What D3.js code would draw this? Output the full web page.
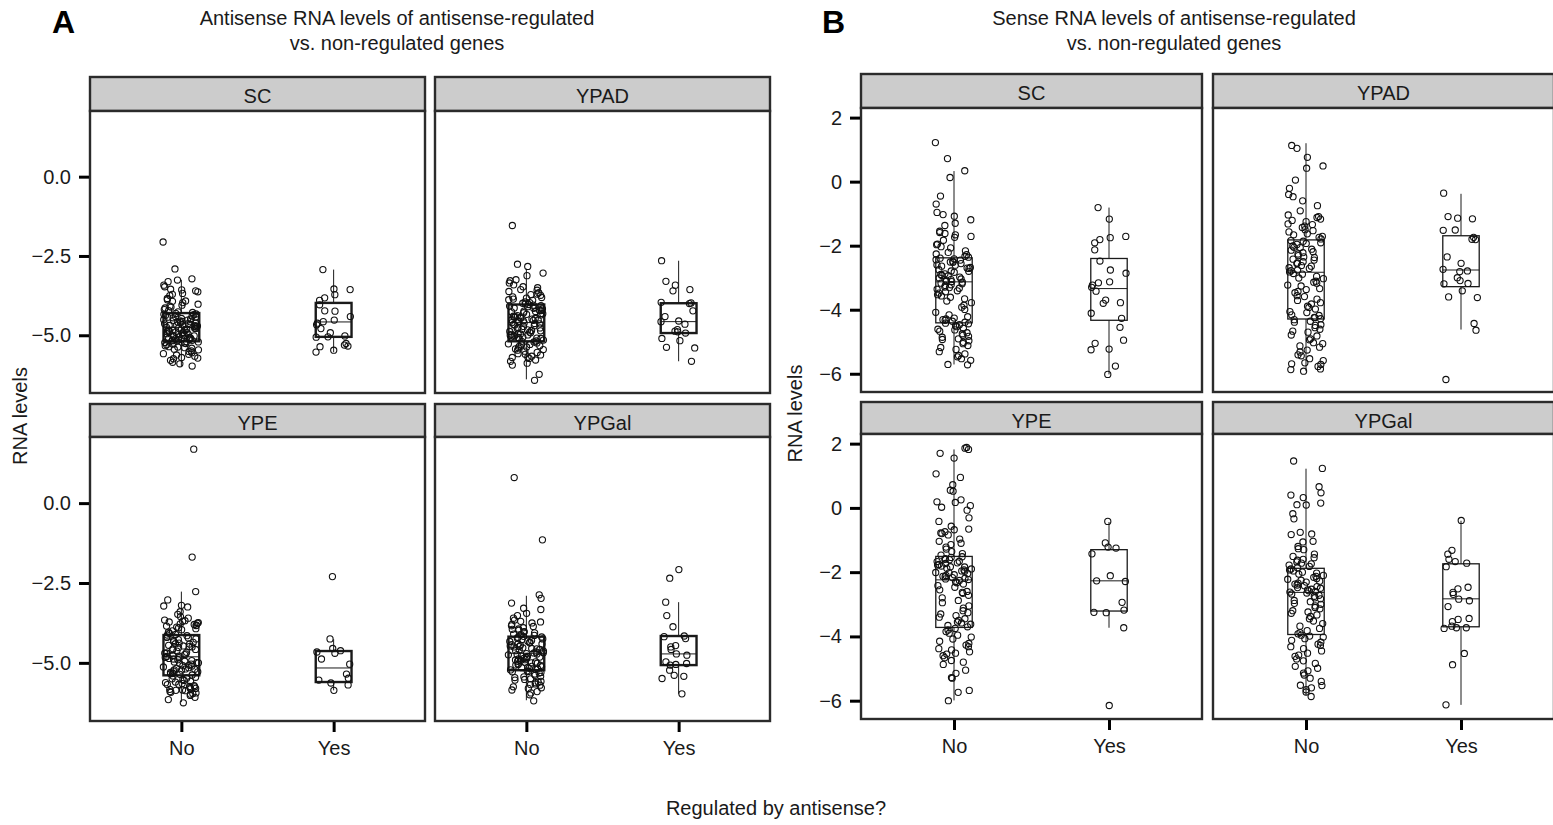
<!DOCTYPE html>
<html>
<head>
<meta charset="utf-8">
<script src="https://d3js.org/d3.v7.min.js"></script>
<style>
  html, body { margin: 0; padding: 0; background: #fff; overflow: hidden; }
  svg { display: block; font-family: "Liberation Sans", Arial, sans-serif; }
</style>
</head>
<body>
<svg id="chart" width="1553" height="825"></svg>
<script>

const facets = [ "SC", "YPAD", "YPE", "YPGal" ];
const groups = [ "No", "Yes" ];
const ticksAntisense = [ 0, -2.5, -5 ];
const ticksSense = [ 2, 0, -2, -4, -6 ];

// ---- Panel A : antisense RNA levels ----
const antisenseSC_No = [ -2.06, -2.91, -3.22, -3.26, -3.31, -3.42, -3.47, -3.55, -3.57, -3.63, -3.68, -3.71, -3.84, -3.88, -3.93, -3.97,
  -4.02, -4.05, -4.11, -4.14, -4.19, -4.22, -4.26, -4.28, -4.31, -4.34, -4.35, -4.39, -4.42, -4.43, -4.47, -4.51, -4.52, -4.55,
  -4.58, -4.6, -4.63, -4.64, -4.67, -4.69, -4.71, -4.72, -4.74, -4.75, -4.77, -4.79, -4.8, -4.84, -4.86, -4.87, -4.9, -4.92,
  -4.95, -4.97, -4.98, -5.01, -5.04, -5.05, -5.07, -5.1, -5.12, -5.14, -5.15, -5.17, -5.18, -5.2, -5.23, -5.24, -5.28, -5.3,
  -5.33, -5.36, -5.37, -5.41, -5.44, -5.46, -5.49, -5.51, -5.55, -5.58, -5.62, -5.66, -5.7, -5.74, -5.79, -5.85, -5.9, -5.97,
  -4.45, -4.62, -4.81, -4.94, -5.0, -5.09, -4.37, -4.56, -4.89, -5.02, -5.13, -4.66,
  -3.6, -3.75, -3.92, -4.08, -4.33, -4.49, -4.57, -4.7, -4.83, -4.91, -5.06, -5.16, -5.26, -5.39, -5.6, -5.72, -4.41, -4.78,
  -4.99, -5.11, -4.53, -4.68, -4.85, -5.21 ];
const antisenseSC_Yes = [ -2.93, -3.54, -3.56, -3.72, -3.82, -3.9, -4.04, -4.23, -4.24, -4.41, -4.52, -4.57, -4.62, -4.67,
  -4.79, -4.92, -5.02, -5.05, -5.06, -5.26, -5.31, -5.34, -5.36, -5.47, -5.53 ];

const antisenseYPAD_No = [ -1.54, -2.76, -2.83, -3.04, -3.12, -3.25, -3.28, -3.35, -3.41, -3.47, -3.5, -3.56, -3.62, -3.66, -3.7,
  -3.74, -3.79, -3.83, -3.88, -3.9, -3.95, -3.99, -4.01, -4.05, -4.08, -4.1, -4.14, -4.17, -4.2, -4.22, -4.26, -4.29, -4.31,
  -4.34, -4.38, -4.4, -4.43, -4.46, -4.49, -4.51, -4.53, -4.55, -4.56, -4.58, -4.61, -4.63, -4.66, -4.7, -4.72, -4.75, -4.79,
  -4.81, -4.85, -4.88, -4.9, -4.94, -4.97, -5.0, -5.03, -5.06, -5.09, -5.12, -5.15, -5.18, -5.21, -5.24, -5.27, -5.3, -5.33,
  -5.37, -5.4, -5.43, -5.47, -5.5, -5.54, -5.58, -5.62, -5.66, -5.69, -5.73, -5.78, -5.82, -5.88, -5.94, -6.23, -6.42,
  -4.12, -4.36, -4.68, -4.92, -5.01, -5.1, -4.25, -4.47, -4.77, -3.86, -4.03, -4.6,
  -3.58, -3.72, -3.97, -4.15, -4.32, -4.44, -4.64, -4.83, -4.96, -5.07, -5.19, -5.29, -5.45, -5.6, -5.7, -4.07, -4.52, -4.86,
  -5.05, -4.24, -3.81, -4.99, -5.35, -4.41 ];
const antisenseYPAD_Yes = [ -2.65, -3.3, -3.42, -3.56, -3.6, -3.96, -3.98, -4.0, -4.23, -4.41, -4.55, -4.57, -4.65, -4.82,
  -4.87, -4.89, -4.93, -5.1, -5.17, -5.38, -5.4, -5.82 ];

const antisenseYPE_No = [ 1.69, -1.69, -2.77, -3.03, -3.2, -3.22, -3.25, -3.4, -3.48, -3.55, -3.6, -3.66, -3.7, -3.72, -3.76,
  -3.8, -3.83, -3.85, -3.9, -3.93, -3.96, -4.0, -4.04, -4.08, -4.11, -4.15, -4.19, -4.22, -4.27, -4.3, -4.34, -4.38, -4.41,
  -4.45, -4.49, -4.52, -4.56, -4.6, -4.63, -4.67, -4.7, -4.74, -4.77, -4.8, -4.83, -4.86, -4.9, -4.93, -4.97, -5.0, -5.04,
  -5.07, -5.1, -5.13, -5.17, -5.2, -5.23, -5.26, -5.3, -5.33, -5.36, -5.38, -5.41, -5.45, -5.48, -5.52, -5.55, -5.58, -5.62,
  -5.65, -5.68, -5.71, -5.74, -5.78, -5.8, -5.83, -5.87, -5.9, -5.94, -5.98, -6.02, -6.08, -6.15, -6.25,
  -4.2, -4.5, -4.72, -4.95, -5.15, -5.28, -5.6, -5.75, -5.85, -4.4, -4.88, -3.88,
  -3.68, -3.74, -3.78, -4.13, -4.25, -4.36, -4.58, -4.69, -4.84, -4.99, -5.09, -5.22, -5.34, -5.5, -5.67, -5.81, -5.92, -5.96,
  -4.47, -4.79, -5.02, -5.19, -3.82, -5.86 ];
const antisenseYPE_Yes = [ -2.3, -4.25, -4.55, -4.62, -4.66, -4.7, -4.88, -5.04, -5.35, -5.48, -5.54, -5.63, -5.69, -5.86 ];

const antisenseYPGal_No = [ 0.8, -1.15, -2.87, -2.98, -3.13, -3.29, -3.33, -3.45, -3.52, -3.6, -3.66, -3.7, -3.75, -3.8, -3.86,
  -3.9, -3.94, -3.98, -4.02, -4.06, -4.1, -4.14, -4.17, -4.2, -4.23, -4.27, -4.3, -4.33, -4.37, -4.4, -4.43, -4.47, -4.5,
  -4.53, -4.56, -4.6, -4.63, -4.66, -4.69, -4.72, -4.75, -4.78, -4.82, -4.85, -4.88, -4.91, -4.95, -4.98, -5.01, -5.05,
  -5.08, -5.11, -5.14, -5.17, -5.2, -5.22, -5.25, -5.28, -5.32, -5.35, -5.39, -5.42, -5.46, -5.5, -5.54, -5.58, -5.62,
  -5.66, -5.7, -5.75, -5.8, -5.85, -5.9, -5.94, -6.0, -6.19,
  -4.25, -4.45, -4.58, -4.8, -4.93, -5.03, -5.15, -4.35, -4.68, -4.9, -3.95, -5.3, -5.6,
  -3.72, -3.84, -4.04, -4.19, -4.32, -4.49, -4.62, -4.74, -4.86, -4.97, -5.07, -5.19, -5.27, -5.44, -5.52, -5.68, -5.78,
  -4.12, -4.41, -4.55, -4.71, -4.83, -5.0, -5.12 ];
const antisenseYPGal_Yes = [ -2.08, -2.35, -3.1, -3.52, -3.87, -4.16, -4.18, -4.24, -4.46, -4.5, -4.58, -4.72, -4.76, -4.97,
  -5.02, -5.05, -5.07, -5.23, -5.39, -5.42, -5.49, -5.97 ];

// lower whisker, q1, median, q3, upper whisker  ( No , Yes )
const antisenseBoxSC = [ [ -5.97, -5.19, -4.75, -4.30, -3.25 ], [ -5.53, -5.05, -4.58, -3.98, -2.93 ] ];
const antisenseBoxYPAD = [ [ -6.39, -5.19, -4.60, -4.03, -2.90 ], [ -5.82, -4.93, -4.57, -3.99, -2.65 ] ];
const antisenseBoxYPE = [ [ -6.23, -5.39, -4.81, -4.13, -2.77 ], [ -5.86, -5.60, -5.16, -4.63, -4.26 ] ];
const antisenseBoxYPGal = [ [ -6.17, -5.23, -4.70, -4.18, -2.90 ], [ -5.97, -5.07, -4.72, -4.16, -3.10 ] ];

// ---- Panel B : sense RNA levels ----
const senseSC_No = [ 1.22, 0.72, 0.34, 0.13, -0.45, -0.7, -0.96, -1.03, -1.08, -1.19, -1.3, -1.37, -1.55, -1.59, -1.62, -1.66,
  -1.71, -1.74, -1.83, -1.95, -1.97, -2.03, -2.07, -2.16, -2.21, -2.26, -2.28, -2.33, -2.36,
  -2.39, -2.41, -2.44, -2.45, -2.49, -2.51, -2.52, -2.56, -2.6, -2.61, -2.64, -2.68, -2.7, -2.71, -2.75, -2.79, -2.8, -2.83,
  -2.88, -2.9, -2.93, -2.94, -2.98, -3.01, -3.04, -3.06, -3.09, -3.11, -3.12,
  -3.14, -3.17, -3.19, -3.22, -3.24, -3.29, -3.31, -3.33, -3.36, -3.41, -3.44, -3.48, -3.53, -3.57, -3.61, -3.66, -3.73,
  -3.78, -3.86, -3.92, -3.99, -4.08, -4.16, -4.22, -4.26, -4.29, -4.31, -4.33, -4.36, -4.39,
  -4.42, -4.44, -4.47, -4.5, -4.53, -4.58, -4.61, -4.63, -4.67, -4.72, -4.75, -4.8, -4.83, -4.86, -4.91, -4.93, -4.97,
  -5.02, -5.06, -5.12, -5.18, -5.24, -5.31, -5.38, -5.43, -5.47, -5.53, -5.58, -5.71, -5.72 ];
const senseSC_Yes = [ -0.81, -1.17, -1.71, -1.75, -1.81, -1.91, -2.13, -2.48, -2.76, -2.86, -3.13, -3.16, -3.23, -3.3, -3.42,
  -3.7, -3.78, -3.8, -4.11, -4.27, -4.55, -4.95, -5.05, -5.23, -5.25, -5.76, -6.02 ];

const senseYPAD_No = [ 1.13, 1.04, 0.76, 0.49, 0.42, 0.05, -0.21, -0.4, -0.47, -0.6, -0.75, -0.91, -1.04, -1.09, -1.12, -1.17,
  -1.21, -1.25, -1.32, -1.34, -1.39, -1.43, -1.5, -1.53, -1.57, -1.63, -1.66, -1.71, -1.74, -1.79,
  -1.84, -1.86, -1.91, -1.93, -1.96, -2.01, -2.05, -2.06, -2.11, -2.14, -2.19, -2.22, -2.26, -2.31, -2.35, -2.37, -2.42,
  -2.45, -2.5, -2.54, -2.56, -2.62, -2.64, -2.69, -2.71, -2.76, -2.78, -2.82,
  -2.87, -2.89, -2.96, -3.01, -3.03, -3.11, -3.14, -3.17, -3.23, -3.26, -3.34, -3.37, -3.43, -3.47, -3.56, -3.59, -3.67,
  -3.71, -3.78, -3.82, -3.89, -3.93, -3.98, -4.06, -4.09, -4.16, -4.18, -4.24, -4.25, -4.28,
  -4.31, -4.36, -4.39, -4.47, -4.49, -4.56, -4.61, -4.67, -4.7, -4.79, -4.82, -4.91, -4.94, -5.03, -5.06, -5.13, -5.17,
  -5.26, -5.32, -5.41, -5.44, -5.53, -5.59, -5.66, -5.69, -5.71, -5.77, -5.85, -5.87, -5.92 ];
const senseYPAD_Yes = [ -0.36, -1.09, -1.14, -1.16, -1.51, -1.52, -1.74, -1.8, -1.81, -2.35, -2.55, -2.74, -2.79, -2.81,
  -3.0, -3.09, -3.18, -3.19, -3.41, -3.6, -3.62, -4.43, -4.64, -6.18 ];

const senseYPE_No = [ 1.88, 1.86, 1.82, 1.7, 1.55, 1.06, 0.95, 0.72, 0.55, 0.52, 0.25, 0.19, 0.17, 0.02, 0.07, -0.07, -0.31,
  -0.42, -0.57, -0.66, -0.68, -0.74, -0.78, -0.8, -0.84, -0.97, -1.04, -1.1, -1.14, -1.22, -1.28, -1.36, -1.42, -1.47,
  -1.52, -1.54, -1.58, -1.6, -1.61, -1.66, -1.67, -1.71, -1.73, -1.76, -1.78, -1.81, -1.83, -1.84, -1.88, -1.9, -1.93,
  -1.96, -1.97, -2.01, -2.02, -2.04, -2.08, -2.1, -2.13, -2.14, -2.17, -2.19, -2.21, -2.23,
  -2.26, -2.3, -2.33, -2.37, -2.42, -2.47, -2.55, -2.6, -2.63, -2.66, -2.72, -2.8, -2.88, -2.95, -3.05, -3.12, -3.2, -3.26,
  -3.3, -3.35, -3.4, -3.45, -3.5, -3.55, -3.58, -3.62, -3.66, -3.7,
  -3.75, -3.8, -3.85, -3.9, -3.96, -4.02, -4.08, -4.15, -4.22, -4.27, -4.32, -4.38, -4.42, -4.48, -4.52, -4.55, -4.6, -4.66,
  -4.75, -4.8, -4.87, -5.05, -5.15, -5.28, -5.3, -5.74, -5.68, -6.0 ];
const senseYPE_Yes = [ -0.42, -1.09, -1.22, -1.25, -1.43, -2.11, -2.27, -2.29, -2.94, -3.18, -3.25, -3.26, -3.73, -6.15 ];

const senseYPGal_No = [ 1.46, 1.23, 0.66, 0.47, 0.4, 0.32, 0.15, 0.09, 0.1, -0.18, -0.34, -0.76, -0.81, -0.83, -1.04, -1.06,
  -1.2, -1.27, -1.3, -1.44, -1.51, -1.55, -1.6, -1.63, -1.68, -1.72, -1.74, -1.78, -1.82, -1.86,
  -1.9, -1.93, -1.96, -2.0, -2.03, -2.06, -2.1, -2.13, -2.16, -2.2, -2.22, -2.25, -2.28, -2.31, -2.34, -2.37, -2.4, -2.42,
  -2.45, -2.48, -2.5, -2.53, -2.55, -2.58, -2.6, -2.62,
  -2.65, -2.68, -2.72, -2.75, -2.8, -2.83, -2.88, -2.92, -2.97, -3.0, -3.05, -3.1, -3.14, -3.2, -3.24, -3.28, -3.33, -3.38,
  -3.45, -3.52, -3.6, -3.68, -3.75, -3.82, -3.88, -3.92,
  -3.96, -3.99, -4.02, -4.07, -4.12, -4.18, -4.24, -4.28, -4.32, -4.38, -4.45, -4.52, -4.58, -4.62, -4.7, -4.76, -4.84,
  -4.93, -4.99, -5.07, -5.14, -5.2, -5.3, -5.4, -5.52, -5.53, -5.6, -5.66, -5.73, -5.87 ];
const senseYPGal_Yes = [ -0.39, -1.32, -1.44, -1.6, -1.67, -1.72, -1.83, -2.47, -2.52, -2.63, -2.69, -2.84, -2.89, -3.07,
  -3.44, -3.47, -3.54, -3.68, -3.73, -3.73, -3.75, -4.53, -4.88, -6.13 ];

const senseBoxSC = [ [ -5.71, -4.41, -3.13, -2.38, 0.33 ], [ -6.02, -4.33, -3.34, -2.40, -0.81 ] ];
const senseBoxYPAD = [ [ -5.92, -4.29, -2.83, -1.82, 1.20 ], [ -4.62, -3.28, -2.76, -1.69, -0.38 ] ];
const senseBoxYPE = [ [ -5.99, -3.72, -2.24, -1.51, 1.82 ], [ -3.73, -3.21, -2.27, -1.30, -0.44 ] ];
const senseBoxYPGal = [ [ -5.83, -3.94, -2.63, -1.88, 1.22 ], [ -6.13, -3.70, -2.83, -1.74, -0.40 ] ];

// tables for the drawing code
const antisensePoints = { SC: [ antisenseSC_No, antisenseSC_Yes ], YPAD: [ antisenseYPAD_No, antisenseYPAD_Yes ],
  YPE: [ antisenseYPE_No, antisenseYPE_Yes ], YPGal: [ antisenseYPGal_No, antisenseYPGal_Yes ] };
const antisenseBoxes = { SC: antisenseBoxSC, YPAD: antisenseBoxYPAD, YPE: antisenseBoxYPE, YPGal: antisenseBoxYPGal };
const sensePoints = { SC: [ senseSC_No, senseSC_Yes ], YPAD: [ senseYPAD_No, senseYPAD_Yes ],
  YPE: [ senseYPE_No, senseYPE_Yes ], YPGal: [ senseYPGal_No, senseYPGal_Yes ] };
const senseBoxes = { SC: senseBoxSC, YPAD: senseBoxYPAD, YPE: senseBoxYPE, YPGal: senseBoxYPGal };

const svg = d3.select( "#chart" );
const ink = "#1a1a1a";
const fontSize = 20;

// deterministic horizontal spread for the jittered points
function jitter( i ) {
  return ( ( i * 0.754877666 + i * i * 0.569840291 ) % 1 ) - 0.5;
}

function drawPlot( cfg ) {

  const g = svg.append( "g" );

  // letter + title
  g.append( "text" )
    .attr( "x", cfg.letterX ).attr( "y", 33 )
    .style( "font-size", "32px" ).style( "font-weight", "bold" )
    .attr( "fill", "#000" )
    .text( cfg.letter );

  cfg.title.forEach( ( line, i ) => {
    g.append( "text" )
      .attr( "x", cfg.titleX ).attr( "y", 25 + i * 25 )
      .attr( "text-anchor", "middle" )
      .style( "font-size", fontSize + "px" )
      .attr( "fill", ink )
      .text( line );
  } );

  // y axis title
  g.append( "text" )
    .attr( "transform", "translate(" + cfg.yTitleX + "," + ( ( cfg.rows[ 0 ].top + cfg.rows[ 1 ].bottom ) / 2 ) + ") rotate(-90)" )
    .attr( "text-anchor", "middle" )
    .attr( "dy", "0.35em" )
    .style( "font-size", fontSize + "px" )
    .attr( "fill", ink )
    .text( "RNA levels" );

  facets.forEach( ( f, k ) => {

    const col = k % 2, row = Math.floor( k / 2 );
    const left = cfg.cols[ col ], w = cfg.colW;
    const r = cfg.rows[ row ];

    const x = d3.scalePoint().domain( groups ).range( [ left, left + w ] ).padding( 0.6 );
    const unit = x.step();
    const y = d3.scaleLinear().domain( cfg.yDomain ).range( [ r.bottom, r.top ] );

    // strip
    g.append( "rect" )
      .attr( "x", left ).attr( "y", r.strip )
      .attr( "width", w ).attr( "height", r.top - r.strip )
      .attr( "fill", "#cccccc" )
      .attr( "stroke", "#2b2b2b" ).attr( "stroke-width", 2.4 );
    g.append( "text" )
      .attr( "x", left + w / 2 ).attr( "y", r.strip + 26 )
      .attr( "text-anchor", "middle" )
      .style( "font-size", fontSize + "px" )
      .attr( "fill", ink )
      .text( f );

    // panel background
    g.append( "rect" )
      .attr( "x", left ).attr( "y", r.top )
      .attr( "width", w ).attr( "height", r.bottom - r.top )
      .attr( "fill", "#fff" );

    // boxes
    const bw = unit * 0.235;
    cfg.boxes[ f ].forEach( ( b, gi ) => {
      const cx = x( groups[ gi ] );
      const bg = g.append( "g" ).attr( "stroke", ink ).attr( "fill", "none" );
      bg.append( "line" ).attr( "x1", cx ).attr( "x2", cx ).attr( "y1", y( b[ 3 ] ) ).attr( "y2", y( b[ 4 ] ) ).attr( "stroke-width", 1 );
      bg.append( "line" ).attr( "x1", cx ).attr( "x2", cx ).attr( "y1", y( b[ 1 ] ) ).attr( "y2", y( b[ 0 ] ) ).attr( "stroke-width", 1 );
      bg.append( "rect" )
        .attr( "x", cx - bw / 2 ).attr( "y", y( b[ 3 ] ) )
        .attr( "width", bw ).attr( "height", y( b[ 1 ] ) - y( b[ 3 ] ) )
        .attr( "stroke-width", cfg.boxStroke );
      bg.append( "line" ).attr( "x1", cx - bw / 2 ).attr( "x2", cx + bw / 2 )
        .attr( "y1", y( b[ 2 ] ) ).attr( "y2", y( b[ 2 ] ) ).attr( "stroke-width", 1 );
    } );

    // jittered points
    cfg.points[ f ].forEach( ( vals, gi ) => {
      const cx = x( groups[ gi ] );
      g.append( "g" ).selectAll( "circle" )
        .data( vals )
        .enter().append( "circle" )
          .attr( "cx", ( d, i ) => cx + jitter( i + gi * 7 + k * 13 ) * unit * 0.24 )
          .attr( "cy", d => y( d ) )
          .attr( "r", 3.1 )
          .attr( "fill", "none" )
          .attr( "stroke", "#111" )
          .attr( "stroke-width", 1.1 );
    } );

    // panel border
    g.append( "rect" )
      .attr( "x", left ).attr( "y", r.top )
      .attr( "width", w ).attr( "height", r.bottom - r.top )
      .attr( "fill", "none" )
      .attr( "stroke", "#2b2b2b" ).attr( "stroke-width", 2.4 );

    // y axis on the left column
    if ( col === 0 ) {
      const ya = g.append( "g" )
        .attr( "transform", "translate(" + ( left - 1 ) + ",0)" )
        .call( d3.axisLeft( y ).tickValues( cfg.ticks ).tickFormat( d3.format( cfg.fmt ) ).tickSize( 10 ).tickPadding( 8 ) );
      ya.select( ".domain" ).remove();
      ya.selectAll( ".tick line" ).attr( "stroke", "#000" ).attr( "stroke-width", 3 );
      ya.selectAll( ".tick text" ).style( "font-size", fontSize + "px" ).style( "font-family", "Liberation Sans, Arial, sans-serif" ).attr( "fill", ink );
    }

    // x axis on the bottom row
    if ( row === 1 ) {
      const xa = g.append( "g" )
        .attr( "transform", "translate(0," + ( r.bottom + 1 ) + ")" )
        .call( d3.axisBottom( x ).tickSize( 10 ).tickPadding( 9 ) );
      xa.select( ".domain" ).remove();
      xa.selectAll( ".tick line" ).attr( "stroke", "#000" ).attr( "stroke-width", 3 );
      xa.selectAll( ".tick text" ).style( "font-size", fontSize + "px" ).style( "font-family", "Liberation Sans, Arial, sans-serif" ).attr( "fill", ink );
    }

  } );
}

drawPlot( {
  letter: "A", letterX: 52,
  title: [ "Antisense RNA levels of antisense-regulated", "vs. non-regulated genes" ], titleX: 397,
  yTitleX: 20,
  cols: [ 90, 435 ], colW: 335,
  rows: [ { strip: 77, top: 111, bottom: 393 }, { strip: 404, top: 437, bottom: 721 } ],
  yDomain: [ -6.82, 2.07 ], ticks: ticksAntisense, fmt: ".1f",
  boxStroke: 2.4,
  points: antisensePoints, boxes: antisenseBoxes
} );

drawPlot( {
  letter: "B", letterX: 822,
  title: [ "Sense RNA levels of antisense-regulated", "vs. non-regulated genes" ], titleX: 1174,
  yTitleX: 795,
  cols: [ 861, 1213 ], colW: 341,
  rows: [ { strip: 74, top: 108, bottom: 392 }, { strip: 402, top: 434, bottom: 719 } ],
  yDomain: [ -6.57, 2.30 ], ticks: ticksSense, fmt: "d",
  boxStroke: 1.3,
  points: sensePoints, boxes: senseBoxes
} );

svg.append( "text" )
  .attr( "x", 776 ).attr( "y", 815 )
  .attr( "text-anchor", "middle" )
  .style( "font-size", fontSize + "px" )
  .attr( "fill", ink )
  .text( "Regulated by antisense?" );

</script>
</body>
</html>
